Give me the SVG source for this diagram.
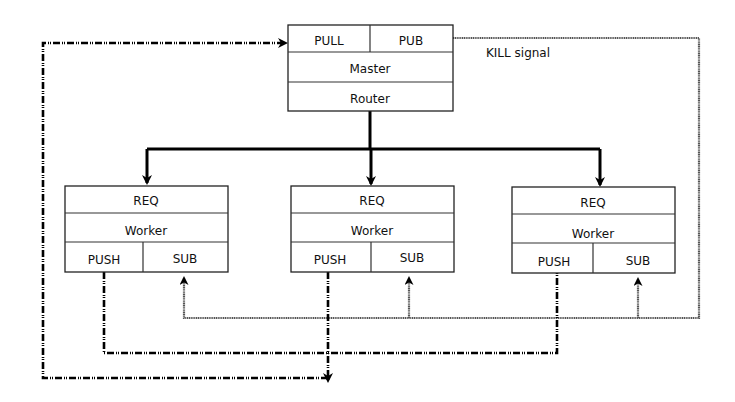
<svg xmlns="http://www.w3.org/2000/svg" width="735" height="402" viewBox="0 0 735 402">
<style>
.box{fill:#fff;stroke:#222;stroke-width:1.3}
.div{stroke:#333;stroke-width:1.2;fill:none}
text{font-family:"DejaVu Sans","Liberation Sans",sans-serif;font-size:12px;fill:#111;text-anchor:middle}
.tree{stroke:#000;stroke-width:3;fill:none}
.push{stroke:#000;stroke-width:2.6;fill:none;stroke-dasharray:7,2,1,1,1,2}
.kill{stroke:#555;stroke-width:2.2;fill:none;stroke-dasharray:1.2,0.6}
</style>
<defs>
<marker id="ah" markerWidth="10" markerHeight="10" refX="8" refY="5" orient="auto" markerUnits="userSpaceOnUse"><path d="M0,0 L10,5 L0,10 L3,5 z" fill="#000"/></marker>
<marker id="ahs" markerWidth="9" markerHeight="9" refX="7" refY="4.5" orient="auto" markerUnits="userSpaceOnUse"><path d="M0,0 L9,4.5 L0,9 L2.5,4.5 z" fill="#000"/></marker>
</defs>
<g id="connectors">
<path class="tree" d="M370,111 V149"/>
<path class="tree" d="M147,149 H600"/>
<path class="tree" d="M147,149 V183" marker-end="url(#ah)"/>
<path class="tree" d="M371,149 V184" marker-end="url(#ah)"/>
<path class="tree" d="M600,149 V185" marker-end="url(#ah)"/>
<path class="kill" d="M453,38 H699 V318 H184 V278" marker-end="url(#ahs)"/>
<path class="kill" d="M409,318 V278" marker-end="url(#ahs)"/>
<path class="kill" d="M638,318 V279" marker-end="url(#ahs)"/>
<path class="push" d="M104,272 V353 H557 V273"/>
<path class="push" d="M328,272 V381" marker-end="url(#ah)"/>
<path class="push" d="M328,378 H43 V43 H286" marker-end="url(#ah)"/>
</g>
<g id="master">
<rect class="box" x="288" y="25" width="165" height="86"/>
<path class="div" d="M288,52 H453 M288,82 H453 M370,25 V52"/>
<text x="329" y="45">PULL</text>
<text x="411" y="45">PUB</text>
<text x="370" y="73">Master</text>
<text x="370" y="103">Router</text>
</g>
<g id="worker1">
<rect class="box" x="65" y="186" width="163" height="86"/>
<path class="div" d="M65,213 H228 M65,242 H228 M143,242 V272"/>
<text x="146" y="205">REQ</text>
<text x="146" y="235">Worker</text>
<text x="104" y="264">PUSH</text>
<text x="185" y="263">SUB</text>
</g>
<g id="worker2">
<rect class="box" x="291" y="186" width="163" height="86"/>
<path class="div" d="M291,213 H454 M291,242 H454 M371,242 V272"/>
<text x="372" y="205">REQ</text>
<text x="372" y="235">Worker</text>
<text x="330" y="264">PUSH</text>
<text x="412" y="262">SUB</text>
</g>
<g id="worker3">
<rect class="box" x="512" y="187" width="163" height="86"/>
<path class="div" d="M512,214 H675 M512,243 H675 M593,243 V273"/>
<text x="593" y="207">REQ</text>
<text x="593" y="238">Worker</text>
<text x="554" y="266">PUSH</text>
<text x="638" y="265">SUB</text>
</g>
<g id="label">
<text x="518" y="57">KILL signal</text>
</g>
</svg>
